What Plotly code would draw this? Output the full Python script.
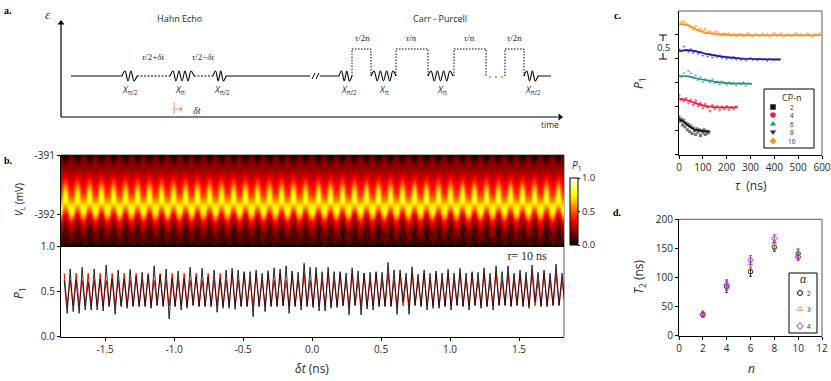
import numpy as np
import plotly.graph_objects as go

W, H = 831, 381
SANS = "Open Sans"
SERIF = "Liberation Serif"
DARK = "#2a2a2a"
GRAY = "#5a5a5a"

# ---------- panel b: data ----------
# One fringe period of the upper P1 map (rows top to bottom, from -391 mV down); the bright
# band in the picture is close to periodic, so this read-off tile is laid side by side.
map_tile = [
    [.10, .04, .02, .04, .10, .13],
    [.15, .08, .06, .08, .15, .18],
    [.19, .16, .14, .16, .19, .20],
    [.20, .20, .20, .20, .20, .21],
    [.23, .25, .26, .25, .23, .23],
    [.27, .31, .33, .31, .27, .26],
    [.31, .37, .42, .37, .31, .30],
    [.36, .45, .54, .45, .36, .34],
    [.40, .54, .66, .54, .40, .38],
    [.44, .62, .76, .62, .44, .42],
    [.50, .68, .82, .68, .50, .48],
    [.60, .72, .80, .72, .60, .60],
    [.70, .68, .64, .68, .70, .72],
    [.74, .58, .50, .58, .74, .78],
    [.68, .44, .37, .44, .68, .74],
    [.52, .33, .26, .33, .52, .58],
    [.36, .24, .19, .24, .36, .42],
]
# The mottled lower rows differ from period to period: three read-off variants and their order.
map_floor_a = [
    [.30, .20, .13, .18, .30, .32],
    [.24, .13, .07, .15, .22, .26],
    [.17, .08, .14, .06, .19, .18],
    [.15, .04, .10, .13, .09, .17],
    [.07, .13, .02, .07, .15, .07],
    [.04, .02, .05, .01, .06, .03],
]
map_floor_b = [
    [.26, .22, .16, .20, .26, .34],
    [.18, .18, .08, .11, .26, .22],
    [.11, .15, .04, .15, .14, .21],
    [.19, .06, .12, .04, .17, .09],
    [.09, .03, .12, .09, .04, .12],
    [.02, .06, .01, .05, .07, .02],
]
map_floor_c = [
    [.32, .16, .14, .15, .32, .28],
    [.22, .11, .11, .08, .20, .28],
    [.21, .06, .05, .14, .11, .14],
    [.09, .15, .03, .07, .19, .11],
    [.12, .05, .08, .02, .08, .15],
    [.06, .01, .03, .06, .02, .05],
]
map_floor_order = "abcbacabcacbabcbcababcacbacbabcbacabcabacb"
delta_t_min, delta_t_max = -1.82, 1.826
vl_top, vl_bottom = -390.99, -392.54

black_peaks = [
    .625, .746, .625, .765, .606, .746, .636, .79, .64, .735, .636, .743, .66, .71,
    .68, .78, .68, .746, .64, .724, .64, .765, .66, .754, .66, .735, .64, .735,
    .754, .735, .717, .717, .735, .70, .728, .76, .746, .78, .724, .71, .81, .765,
    .765, .717, .765, .717, .717, .70, .76, .724, .70, .71, .717, .71, .82, .735,
    .735, .70, .77, .688, .735, .70, .724, .70, .746, .70, .754, .70, .717, .71,
    .76, .70, .78, .717, .78, .70, .735, .71, .79, .71, .735, .70, .80, .70,
]
black_troughs = [
    .258, .276, .258, .294, .294, .294, .283, .331, .247, .331, .313, .331, .331, .331,
    .313, .35, .331, .195, .331, .294, .313, .35, .331, .331, .331, .269, .313, .313,
    .302, .331, .331, .22, .331, .276, .331, .331, .342, .258, .331, .294, .331, .32,
    .283, .283, .313, .32, .342, .24, .35, .24, .305, .294, .331, .331, .331, .247,
    .386, .247, .35, .331, .294, .313, .313, .331, .294, .35, .331, .294, .35, .313,
    .331, .294, .35, .35, .331, .35, .331, .313, .386, .331, .331, .35, .35, .331,
]
red_period = [.70, .34, .62, .34]
first_extremum = -1.797
extremum_step = 0.02174

# ---------- panel c ----------
cp_labels = ["2", "4", "6", "8", "10"]
cp_colors = ["#111111", "#ee1c3a", "#1f8f8a", "#1b1ba8", "#f7931e"]
cp_symbols = ["square", "circle", "triangle-up", "triangle-down", "diamond"]
cp_step = [5, 10, 10, 10, 10]
cp_points = [
    [.78, .70, .74, .62, .72, .58, .66, .52, .63, .48, .60, .44, .56, .50, .42, .54, .47, .52, .40, .50, .46, .52, .42, .49, .45, .47],
    [1.24, 1.15, 1.12, 1.18, 1.08, 1.14, 1.04, 1.13, 1.02, 1.08, .98, 1.06, .99, .91, 1.03, .96, 1.01, .94, 1.00, .96, 1.01, .94, .99, .96, 1.00],
    [1.66, 1.62, 1.70, 1.64, 1.74, 1.70, 1.60, 1.66, 1.56, 1.62, 1.52, 1.58, 1.55, 1.50, 1.57, 1.49, 1.53, 1.47, 1.53, 1.50, 1.46, 1.51, 1.47, 1.50, 1.45, 1.49, 1.47, 1.51, 1.44, 1.49, 1.47],
    [2.20, 2.16, 2.26, 2.19, 2.15, 2.20, 2.13, 2.17, 2.10, 2.15, 2.07, 2.11, 2.05, 2.10, 2.03, 2.08, 2.04, 2.07, 2.02, 2.05, 2.00, 2.03, 2.01, 2.04, 1.99, 2.02, 1.98, 2.01, 1.97, 2.00, 2.02, 1.98, 2.00, 1.97, 2.01, 1.98, 2.00, 1.96, 2.00, 1.98, 1.97, 1.99, 1.98],
    [2.72, 2.76, 2.78, 2.72, 2.70, 2.66, 2.62, 2.68, 2.60, 2.63, 2.58, 2.62, 2.55, 2.57, 2.53, 2.55, 2.56, 2.52, 2.50, 2.53, 2.50, 2.52, 2.49, 2.51, 2.47, 2.50, 2.52, 2.48, 2.50, 2.53, 2.49, 2.47, 2.51, 2.50, 2.48, 2.52, 2.49, 2.51, 2.47, 2.50, 2.53, 2.49, 2.50, 2.52, 2.47, 2.50, 2.51, 2.48, 2.50, 2.53, 2.49, 2.51, 2.48, 2.50, 2.52, 2.49, 2.47, 2.51, 2.50, 2.52, 2.49],
]
cp_fit_tau = [
    [0, 20, 40, 60, 80, 110, 130],
    [0, 30, 60, 100, 130, 170, 246],
    [0, 40, 80, 120, 160, 200, 305],
    [0, 40, 80, 120, 160, 200, 260, 330, 427],
    [0, 20, 50, 80, 100, 130, 170, 220, 300, 600],
]
cp_fit_p = [
    [.739, .683, .60, .537, .509, .489, .489],
    [1.169, 1.141, 1.092, 1.03, 1.002, .988, .988],
    [1.648, 1.634, 1.585, 1.55, 1.516, 1.495, 1.481],
    [2.168, 2.182, 2.147, 2.099, 2.064, 2.036, 2.008, 1.995, 1.988],
    [2.72, 2.72, 2.675, 2.60, 2.56, 2.535, 2.51, 2.50, 2.494, 2.494],
]

# ---------- panel d ----------
n_values = [2, 4, 6, 8, 10]
alpha_labels = ["2", "3", "4"]
alpha_colors = ["#111111", "#f08a4b", "#9a1ee6"]
alpha_symbols = ["circle-open", "triangle-up-open", "diamond-open"]
t2_values = [
    [36, 84, 110, 152, 141],
    [39, 88, 124, 160, 137],
    [37, 87, 130, 167, 135],
]
t2_errors = [
    [4, 10, 8, 7, 8],
    [4, 8, 8, 6, 7],
    [4, 9, 8, 7, 6],
]

# ---------- helpers: screen-like frame for the schematic and the legends ----------
fig = go.Figure()


def dom_x(a, b):
    return [a / W, b / W]


def dom_y(top, bottom):
    return [1 - bottom / H, 1 - top / H]


def note(x, y, text, size=9, color=DARK, family=SANS, anchor="center", angle=0):
    fig.add_annotation(x=x, y=y, xref="x", yref="y", text=text, showarrow=False,
                       xanchor=anchor, yanchor="middle", textangle=angle, borderpad=0,
                       font=dict(size=size, color=color, family=family))


def path(xs, ys, color="black", width=1.2, dash="solid", smooth=False):
    line = dict(color=color, width=width, dash=dash)
    if smooth:
        line.update(shape="spline", smoothing=1.0)
    fig.add_trace(go.Scatter(x=xs, y=ys, mode="lines", line=line, hoverinfo="skip",
                             showlegend=False, xaxis="x", yaxis="y"))


def wiggle(x0, x1, half_cycles):
    xs = list(np.linspace(x0, x1, half_cycles + 2))
    ys = [76] + [71 if i % 2 == 0 else 81 for i in range(half_cycles)] + [76]
    path(xs, ys, width=1.1, smooth=True)


def italic(s):
    return f"<i>{s}</i>"


# ---------- schematic (panel a) ----------
path([61, 61], [117, 24], color="#666666", width=2)
path([61, 558], [117, 117], color="black", width=1.1)
fig.add_trace(go.Scatter(x=[61, 560], y=[23, 117], mode="markers", hoverinfo="skip", showlegend=False,
                         xaxis="x", yaxis="y",
                         marker=dict(symbol=["triangle-up", "triangle-right"], size=6, color="black")))
note(48, 14, italic("ε"), size=13, family=SERIF)
note(550, 124, "time", size=8.5)
note(179, 18, "Hahn Echo", size=9)
note(440, 18, "Carr - Purcell", size=9)

path([71, 122], [76, 76])
wiggle(122, 137, 4)
path([137, 170], [76, 76], dash="2px,1.5px", width=1)
wiggle(170, 194, 7)
path([194, 213], [76, 76], dash="2px,1.5px", width=1)
wiggle(213, 226, 4)
path([226, 310], [76, 76])
path([312, 315], [79, 73], width=1)
path([316, 319], [79, 73], width=1)
path([320, 339], [76, 76], color="#333333")
wiggle(339, 352, 4)
for a, b in [(352, 371), (396, 428), (454, 486), (505, 524)]:
    path([a, a, b, b], [76, 49, 49, 76], dash="1.5px,1.5px", width=1)
wiggle(371, 396, 7)
wiggle(428, 453, 7)
wiggle(524, 538, 4)
path([538, 551], [76, 76], color="#333333")
fig.add_trace(go.Scatter(x=[490, 496, 502], y=[77, 77, 77], mode="markers", hoverinfo="skip", showlegend=False,
                         xaxis="x", yaxis="y", marker=dict(size=2, color="#f47b20")))
path([174, 174], [102, 114], color="#f58a5a", width=1)
path([174, 180], [109, 109], color="#f58a5a", width=1)
fig.add_trace(go.Scatter(x=[181], y=[109], mode="markers", hoverinfo="skip", showlegend=False,
                         xaxis="x", yaxis="y",
                         marker=dict(symbol="triangle-right", size=4, color="#f58a5a")))
note(197, 110, "<i>δt</i>", size=10, family=SERIF)
xpi2 = "<i>X</i><sub>π/2</sub>"
xpi = "<i>X</i><sub>π</sub>"
for x, label in [(130, xpi2), (180, xpi), (222, xpi2), (349, xpi2), (384, xpi), (442, xpi), (533, xpi2)]:
    note(x, 90, label, size=9, color="#333333")
note(153, 57, "<i>τ</i>/2+<i>δt</i>", size=9, family=SERIF)
note(203, 57, "<i>τ</i>/2−<i>δt</i>", size=9, family=SERIF)
for x, label in [(362, "<i>τ</i>/2n"), (411, "<i>τ</i>/n"), (469, "<i>τ</i>/n"), (514, "<i>τ</i>/2n")]:
    note(x, 38, label, size=9, family=SERIF)

for x, y, label in [(8, 10, "a."), (8, 160, "b."), (617, 15, "c."), (617, 212, "d.")]:
    note(x, y, f"<b>{label}</b>", size=10, color="black", family=SERIF)

# ---------- panel b ----------
floors = {"a": map_floor_a, "b": map_floor_b, "c": map_floor_c}
columns = [np.vstack([np.array(map_tile), np.array(floors[key])]) for key in map_floor_order]
z = np.hstack(columns)
xs_map = np.linspace(delta_t_min, delta_t_max, z.shape[1])
ys_map = np.linspace(vl_top, vl_bottom, z.shape[0])
hot = [[0, "#0a0000"], [0.365, "#ff0000"], [0.746, "#ffff00"], [1, "#ffffff"]]
fig.add_trace(go.Heatmap(x=xs_map, y=ys_map, z=z, zmin=0, zmax=1, colorscale=hot, zsmooth="best",
                         xaxis="x2", yaxis="y2", hoverinfo="skip",
                         colorbar=dict(x=570 / W, xanchor="left", xpad=0, thickness=8, thicknessmode="pixels",
                                       y=1 - 245 / H, yanchor="bottom", ypad=0, len=67, lenmode="pixels",
                                       tickvals=[0, .5, 1], ticktext=["0.0", "0.5", "1.0"], ticks="outside",
                                       ticklen=2, tickcolor="black", outlinecolor="black", outlinewidth=1,
                                       tickfont=dict(size=9.5, family=SANS, color=DARK))))

peaks_x = [first_extremum + 2 * i * extremum_step for i in range(len(black_peaks))]
troughs_x = [first_extremum + (2 * i + 1) * extremum_step for i in range(len(black_troughs))]
line_x = [v for pair in zip(peaks_x, troughs_x) for v in pair]
line_black = [v for pair in zip(black_peaks, black_troughs) for v in pair]
line_red = (red_period * len(map_floor_order))[:len(line_x)]
fig.add_trace(go.Scatter(x=line_x, y=line_red, mode="lines", line=dict(color="#ff0000", width=1.0),
                         xaxis="x3", yaxis="y3", showlegend=False, hoverinfo="skip"))
fig.add_trace(go.Scatter(x=line_x, y=line_black, mode="lines", line=dict(color="#111111", width=0.9),
                         xaxis="x3", yaxis="y3", showlegend=False, hoverinfo="skip"))

note(527, 256, "<i>τ</i>= 10 ns", size=12, family=SERIF)
note(577, 165, "<i>P</i><sub>1</sub>", size=10)
note(312, 368, "<i>δt</i> (ns)", size=12, family=SANS)
note(19, 200, "<i>V</i><sub>L</sub> (mV)", size=10, angle=-90)
note(19, 293, "<i>P</i><sub>1</sub>", size=12, angle=-90)

# ---------- panel c ----------
for i in range(5):
    px = [k * cp_step[i] for k in range(len(cp_points[i]))]
    fig.add_trace(go.Scatter(x=px, y=cp_points[i], mode="markers", opacity=0.6,
                             marker=dict(size=3, color=cp_colors[i], symbol=cp_symbols[i]),
                             xaxis="x4", yaxis="y4", showlegend=False, hoverinfo="skip"))
    fig.add_trace(go.Scatter(x=cp_fit_tau[i], y=cp_fit_p[i], mode="lines",
                             line=dict(color=cp_colors[i], width=1.7, shape="spline", smoothing=0.8),
                             xaxis="x4", yaxis="y4", showlegend=False, hoverinfo="skip"))

# 0.5 scale bar: caps and stubs around the text
path([663, 663], [35, 41], width=1)
path([663, 663], [53, 59], width=1)
path([659, 667], [35, 35], width=1)
path([659, 667], [59, 59], width=1)
note(663, 47, "0.5", size=9.5)
note(639, 83, "<i>P</i><sub>1</sub>", size=12, angle=-90)
note(751, 185, "<i>τ</i>  (ns)", size=12, family=SANS)

# legend box of panel c
path([764, 814, 814, 764, 764], [89, 89, 148, 148, 89], width=1)
note(792, 97, "CP-n", size=9)
for i, yy in enumerate([107, 115, 124, 132, 141]):
    fig.add_trace(go.Scatter(x=[773], y=[yy], mode="markers", hoverinfo="skip", showlegend=False, xaxis="x", yaxis="y",
                             marker=dict(size=5.5, color=cp_colors[i], symbol=cp_symbols[i])))
    note(792, yy, cp_labels[i], size=6.5)

# ---------- panel d ----------
for i in range(3):
    fig.add_trace(go.Scatter(x=n_values, y=t2_values[i], mode="markers",
                             error_y=dict(type="data", array=t2_errors[i], color=alpha_colors[i], thickness=0.8, width=1.5),
                             marker=dict(symbol=alpha_symbols[i], size=4.5, color=alpha_colors[i], line=dict(width=0.9, color=alpha_colors[i])),
                             xaxis="x5", yaxis="y5", showlegend=False, hoverinfo="skip"))
path([789, 817, 817, 789, 789], [273, 273, 333, 333, 273], width=1)
note(803.5, 279, "<i>α</i>", size=12, family=SERIF)
for i, yy in enumerate([293, 309, 326]):
    fig.add_trace(go.Scatter(x=[800], y=[yy], mode="markers", hoverinfo="skip", showlegend=False, xaxis="x", yaxis="y",
                             marker=dict(size=5, color=alpha_colors[i], symbol=alpha_symbols[i], line=dict(width=1, color=alpha_colors[i]))))
    note(809, yy, alpha_labels[i], size=6.5)
note(639, 277, "<i>T</i><sub>2</sub> (ns)", size=12, angle=-90)
note(751, 368, "<i>n</i>", size=12)

# frame lines on the top/right of the panels
for xs, ys in [([61, 564], [155, 155]), ([564, 564], [155, 337]),
               ([679, 822], [11, 11]), ([822, 822], [11, 155]),
               ([679, 822], [219.3, 219.3]), ([822, 822], [219.3, 336])]:
    path(xs, ys, color=GRAY, width=1)

tick_font = dict(size=10, family=SANS, color=DARK)
axis_common = dict(showgrid=False, zeroline=False, showline=True, linecolor="black", linewidth=1.2,
                   ticks="outside", tickcolor="black", ticklen=3, tickwidth=1, tickfont=tick_font)

fig.update_layout(
    width=W, height=H, autosize=False, margin=dict(l=0, r=0, t=0, b=0, autoexpand=False), paper_bgcolor="white",
    plot_bgcolor="rgba(0,0,0,0)", showlegend=False,
    xaxis=dict(domain=[0, 1], range=[0, W], visible=False, fixedrange=True),
    yaxis=dict(domain=[0, 1], range=[H, 0], visible=False, fixedrange=True),
    xaxis2=dict(axis_common, domain=dom_x(61, 564), range=[delta_t_min, delta_t_max], anchor="y2", showticklabels=False, ticks=""),
    yaxis2=dict(axis_common, domain=dom_y(155, 246), range=[vl_bottom, vl_top], anchor="x2",
                tickvals=[-391, -392], ticktext=["-391", "-392"]),
    xaxis3=dict(axis_common, domain=dom_x(61, 564), range=[delta_t_min, delta_t_max], anchor="y3",
                tickvals=[-1.5, -1, -.5, 0, .5, 1, 1.5], ticktext=["-1.5", "-1.0", "-0.5", "0.0", "0.5", "1.0", "1.5"]),
    yaxis3=dict(axis_common, domain=dom_y(246, 336.7), range=[0, 1], anchor="x3",
                tickvals=[0, .5, 1], ticktext=["0.0", "0.5", "1.0"]),
    xaxis4=dict(axis_common, domain=dom_x(679, 822), range=[0, 600], anchor="y4", tickvals=[0, 100, 200, 300, 400, 500, 600]),
    yaxis4=dict(axis_common, domain=dom_y(11, 154.7), range=[0, 3], anchor="x4", tickvals=[0, .5, 1, 1.5, 2, 2.5], showticklabels=False),
    xaxis5=dict(axis_common, domain=dom_x(679, 822), range=[0, 12], anchor="y5", tickvals=[0, 2, 4, 6, 8, 10, 12]),
    yaxis5=dict(axis_common, domain=dom_y(219.3, 335.7), range=[0, 200], anchor="x5", tickvals=[0, 50, 100, 150, 200]),
)

fig.write_html("out.html", config={"displayModeBar": False},
               post_script="document.body.style.margin='0';document.body.style.overflow='hidden';")
